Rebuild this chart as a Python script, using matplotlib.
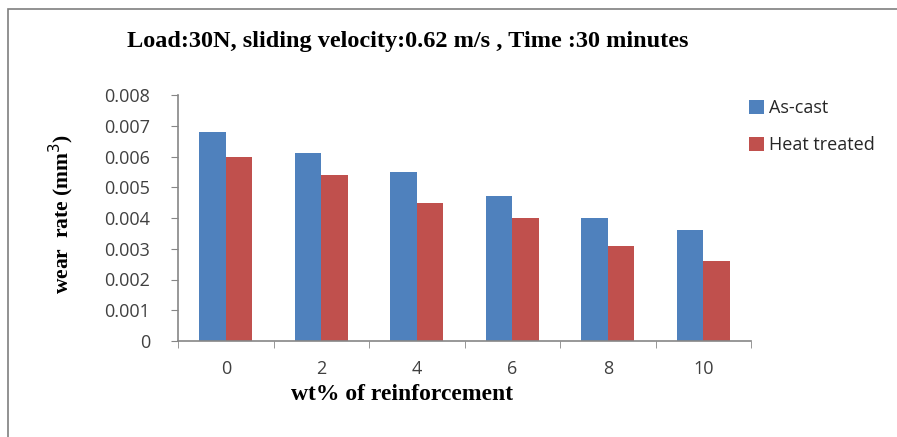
import matplotlib
matplotlib.use("Agg")
import matplotlib.pyplot as plt
import numpy as np
from matplotlib.patches import Rectangle

categories = ["0", "2", "4", "6", "8", "10"]
as_cast = [0.0068, 0.0061, 0.0055, 0.0047, 0.0040, 0.0036]
heat_treated = [0.0060, 0.0054, 0.0045, 0.0040, 0.0031, 0.0026]
yticks = [0, 0.001, 0.002, 0.003, 0.004, 0.005, 0.006, 0.007, 0.008]
ytick_labels = ["0", "0.001", "0.002", "0.003", "0.004", "0.005", "0.006", "0.007", "0.008"]

W, H = 897, 437
fig = plt.figure(figsize=(W/100, H/100), dpi=100)
fig.patch.set_facecolor("white")

# frame border
fig.add_artist(Rectangle((8/W, -0.1), 1.0, (H-9)/H + 0.1, transform=fig.transFigure,
                         fill=False, edgecolor="#7f7f7f", linewidth=1.2))

left, right, top, bottom = 178, 751, 95, 341
ax = fig.add_axes([left/W, 1-bottom/H, (right-left)/W, (bottom-top)/H])

x = np.arange(len(categories))
bw = 0.275
ax.bar(x - bw/2, as_cast, bw, color="#4F81BD", label="As-cast")
ax.bar(x + bw/2, heat_treated, bw, color="#C0504D", label="Heat treated")

tickfont = {"family": "Open Sans", "size": 13}
ax.set_xlim(-0.5, len(categories) - 0.5)
ax.set_ylim(0, 0.008)
ax.set_yticks(yticks)
ax.set_yticklabels(ytick_labels, fontdict=tickfont, color="#404040")
ax.set_xticks(x)
ax.set_xticklabels(categories, fontdict=tickfont, color="#404040")
ax.set_xticks(np.arange(-0.5, len(categories)), minor=True)
ax.tick_params(axis="x", which="major", length=0, pad=14)
ax.tick_params(axis="x", which="minor", length=5, color="#868686", direction="out")
ax.tick_params(axis="y", length=5, color="#868686", direction="out", pad=15)

for s in ["top", "right"]:
    ax.spines[s].set_visible(False)
for s in ["left", "bottom"]:
    ax.spines[s].set_color("#868686")
    ax.spines[s].set_linewidth(1.2)

serif = "Liberation Serif"
fig.text(408/W, 1-42/H, "Load:30N, sliding velocity:0.62 m/s , Time :30 minutes",
         fontfamily=serif, fontweight="bold", fontsize=17.5, ha="center", va="center")
fig.text(61/W, 1-214/H, "wear  rate (mm$^3$)", fontfamily=serif, fontweight="bold",
         fontsize=15.5, rotation=90, ha="center", va="center")
fig.text(402/W, 1-394/H, "wt% of reinforcement", fontfamily=serif, fontweight="bold",
         fontsize=17, ha="center", va="center")

ax.legend(loc="upper left", bbox_to_anchor=(733/W, 1-83/H), bbox_transform=fig.transFigure,
          frameon=False, prop={"family": "Open Sans", "size": 13}, handlelength=0.8,
          handleheight=0.8, handletextpad=0.3, labelspacing=1.05, labelcolor="#262626")

fig.savefig("out.png", dpi=100)
